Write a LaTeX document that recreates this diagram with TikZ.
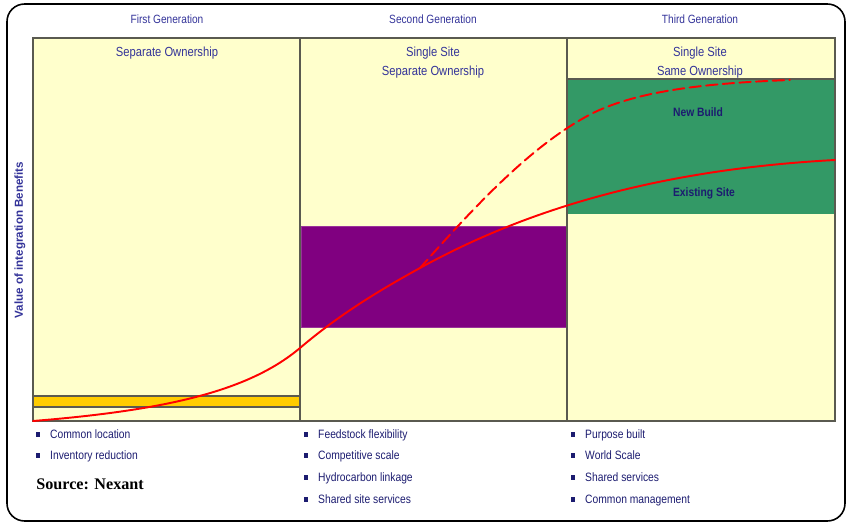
\documentclass[tikz,border=0pt]{standalone}
\usepackage{fontspec}
\setmainfont{Liberation Sans}
\newfontfamily\narrowfont[FakeStretch=0.85]{Liberation Sans}
\newfontfamily\sourcefont{Liberation Serif}
\usetikzlibrary{positioning,shapes}
\definecolor{panelyellow}{HTML}{FFFFCC}
\definecolor{headblue}{HTML}{333399}
\definecolor{labelnavy}{HTML}{1C1C70}
\definecolor{buildgreen}{HTML}{339966}
\definecolor{sitepurple}{HTML}{800080}
\definecolor{barorange}{HTML}{FFCC00}
\definecolor{panelline}{HTML}{5A5A50}
\newcommand{\bulletmark}{{\color{labelnavy}\rule[0.6pt]{2.3pt}{2.8pt}}\hspace{5.6pt}}

\begin{document}
\begin{tikzpicture}[x=0.02cm, y=-0.02cm,
    heading/.style={text=headblue, inner sep=0pt, font=\narrowfont\fontsize{6.8}{8}\selectfont},
    coltitle/.style={text=headblue, inner sep=0pt, align=center, font=\narrowfont\fontsize{7.5}{10.8}\selectfont},
    boxlabel/.style={text=labelnavy, inner sep=0pt, font=\narrowfont\bfseries\fontsize{6.9}{8}\selectfont},
    bulletitem/.style={text=labelnavy, inner sep=0pt, anchor=base west, font=\narrowfont\fontsize{6.9}{8}\selectfont},
    axislabel/.style={text=headblue, inner sep=0pt, rotate=90, font=\bfseries\fontsize{6.6}{8}\selectfont},
    growth/.style={red, line width=1.1pt, line cap=round}]
    \useasboundingbox (0,0) rectangle (850,524);
    \draw[line width=0.9pt, rounded corners=10pt] (7,4) rectangle (845,521);

    \fill[panelyellow] (33,38) rectangle (835,421);
    \fill[buildgreen] (568,80) rectangle (835,214);
    \filldraw[fill=sitepurple, draw=sitepurple!80!white, line width=0.4pt] (301,226) rectangle (567,327);
    \filldraw[fill=barorange, draw=panelline, line width=0.8pt] (33,396) rectangle (300,407);
    \draw[panelline, line width=0.8pt] (33,38) rectangle (835,421);
    \draw[panelline, line width=0.8pt] (300,38) -- (300,421);
    \draw[panelline, line width=0.8pt] (567,38) -- (567,421);
    \draw[panelline, line width=0.8pt] (567,79) -- (835,79);

    \node (firstgen) [heading] at (167,19) {First Generation};
    \node (secondgen) [heading] at (433,19) {Second Generation};
    \node (thirdgen) [heading] at (700,19) {Third Generation};

    \node (firsttitle) [coltitle] at (167,53) {Separate Ownership};
    \node (secondtitle) [coltitle] at (433,63) {Single Site\\Separate Ownership};
    \node (thirdtitle) [coltitle] at (700,63) {Single Site\\Same Ownership};

    \node (newbuild) [boxlabel] at (698,112) {New Build};
    \node (existing) [boxlabel] at (704,193) {Existing Site};

    \node (value) [axislabel] at (20,240) {Value of integration Benefits};

    \coordinate (split) at (420,268);
    \draw[growth] (33,421) .. controls (170,410) and (250,390) .. (300,348)
        .. controls (340,314) and (380,290) .. (split)
        .. controls (520,213) and (650,170) .. (835,160);
    \draw[growth, dash pattern=on 6.5pt off 3pt] (split) .. controls (470,212) and (530,145) .. (593,113)
        .. controls (640,90) and (710,83) .. (790,80);

    \node (location) [bulletitem] at (36,438) {\bulletmark Common location};
    \node (inventory) [bulletitem] at (36,459) {\bulletmark Inventory reduction};
    \node (feedstock) [bulletitem] at (304,438) {\bulletmark Feedstock flexibility};
    \node (competitive) [bulletitem] at (304,459) {\bulletmark Competitive scale};
    \node (linkage) [bulletitem] at (304,481) {\bulletmark Hydrocarbon linkage};
    \node (siteservices) [bulletitem] at (304,503) {\bulletmark Shared site services};
    \node (purpose) [bulletitem] at (571,438) {\bulletmark Purpose built};
    \node (worldscale) [bulletitem] at (571,459) {\bulletmark World Scale};
    \node (sharedservices) [bulletitem] at (571,481) {\bulletmark Shared services};
    \node (management) [bulletitem] at (571,503) {\bulletmark Common management};

    \node (source) [inner sep=0pt, anchor=west, font=\sourcefont\bfseries\fontsize{9.2}{11}\selectfont] at (36,484) {Source: Nexant};
\end{tikzpicture}
\end{document}
